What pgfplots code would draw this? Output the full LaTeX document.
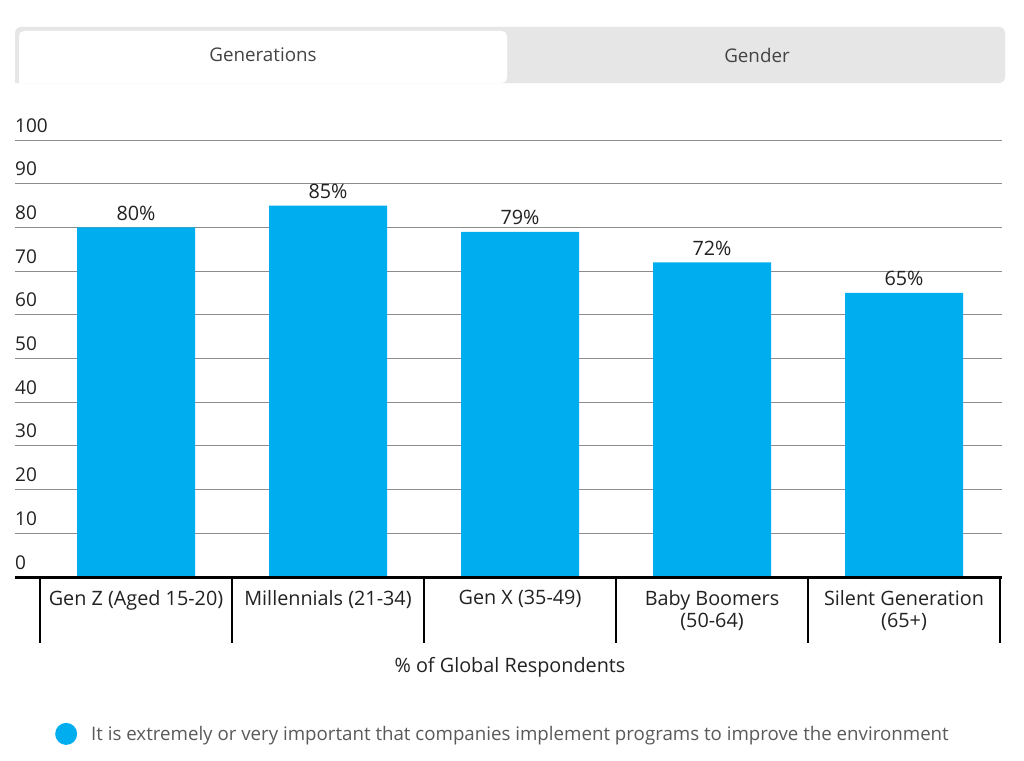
\documentclass[border=0pt]{standalone}
\usepackage{fontspec}
\setmainfont{Open Sans}
\usepackage{pgfplots}
\pgfplotsset{compat=1.18}
\definecolor{barblue}{RGB}{0,174,239}
\definecolor{tabgray}{RGB}{230,230,230}
\definecolor{txt}{RGB}{34,34,34}
\definecolor{tabtxt}{RGB}{68,68,68}
\definecolor{legtxt}{RGB}{90,90,90}
\definecolor{gridc}{RGB}{140,140,140}
\begin{document}
\begin{tikzpicture}
\useasboundingbox[fill=white] (0,0) rectangle (1024pt,-760pt);
% tabs
\fill[tabgray, rounded corners=6pt] (15pt,-83pt) -- (15pt,-27pt) -- (1005pt,-27pt) -- (1005pt,-83pt) [sharp corners] -- cycle;
\fill[white, rounded corners=5pt] (19pt,-83pt) -- (19pt,-31pt) -- (507pt,-31pt) -- (507pt,-83pt) [sharp corners] -- cycle;
\node[text=tabtxt, font=\fontsize{18.8}{22}\selectfont] at (263pt,-55pt) {Generations};
\node[text=tabtxt, font=\fontsize{18.8}{22}\selectfont] at (757pt,-55pt) {Gender};
\begin{axis}[
  at={(15pt,-577pt)}, anchor=south west,
  scale only axis, width=987pt, height=437pt,
  xmin=-0.6302, xmax=4.5104, ymin=0, ymax=100,
  ybar, bar width=118pt, bar shift=0pt,
  axis line style={draw=none},
  major tick length=0pt,
  ytick={0,10,...,100},
  ymajorgrids, grid style={gridc, line width=1pt},
  /pgf/number format/assume math mode=true,
  yticklabel style={anchor=base west, inner sep=0pt, yshift=8pt, text=txt, font=\fontsize{19}{23}\selectfont},
  xtick={0,1,2,3,4},
  xticklabels={Gen Z (Aged 15-20), Millennials (21-34), Gen X (35-49), {Baby Boomers\\(50-64)}, {Silent Generation\\(65+)}},
  xticklabel style={anchor=north, inner sep=0pt, yshift=-13pt, align=center, text=txt, font=\fontsize{19.8}{22.5}\selectfont},
  nodes near coords={\pgfmathprintnumber{\pgfplotspointmeta}\%},
  every node near coord/.append style={anchor=base, inner sep=0pt, yshift=7pt, text=txt, font=\fontsize{19.8}{22}\selectfont},
  clip=false,
  legend style={at={(axis description cs:0.0405,-0.359)}, anchor=west, draw=none, fill=none, inner sep=0pt, font=\fontsize{18.7}{22}\selectfont, text=legtxt},
  legend image code/.code={\fill[barblue] (0pt,0pt) circle (11pt); \path (23pt,0pt);},
]
\addplot[fill=barblue, draw=none] coordinates {(0,80) (1,85) (2,79) (3,72) (4,65)};
\addlegendentry{It is extremely or very important that companies implement programs to improve the environment}
\draw[black, line width=3pt] (rel axis cs:0,0) -- (rel axis cs:1,0);
\pgfplotsinvokeforeach{-0.5,0.5,1.5,2.5,3.5,4.5}{
  \draw[black, line width=1.3pt] (axis cs:#1,0) -- (axis cs:#1,-15.1);
}
\end{axis}
\node[text=txt, font=\fontsize{19.8}{22}\selectfont] at (510pt,-667pt) {\% of Global Respondents};
\end{tikzpicture}
\end{document}
